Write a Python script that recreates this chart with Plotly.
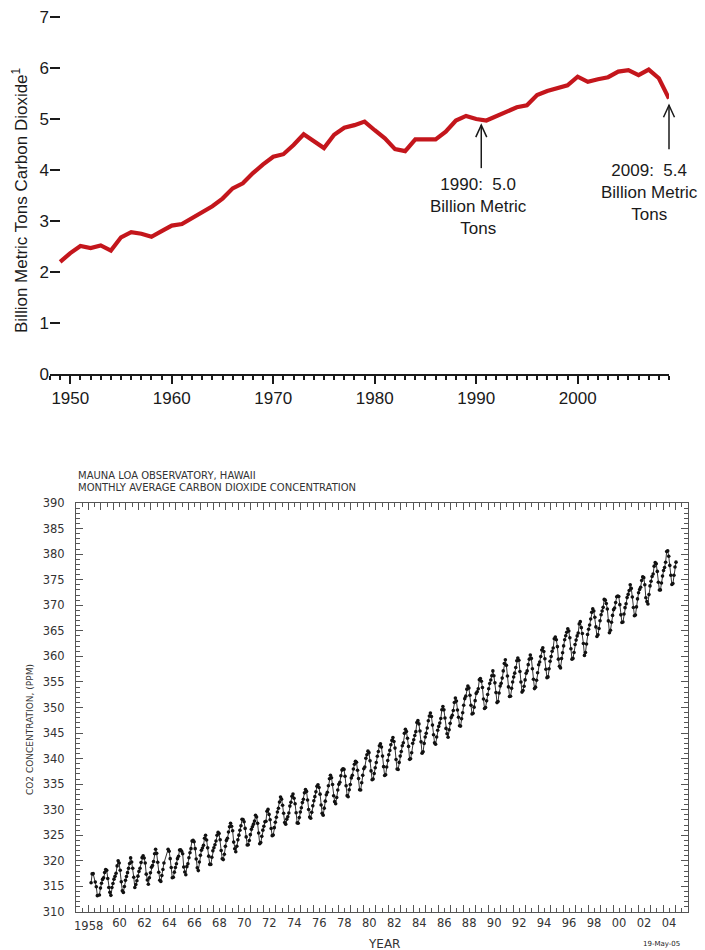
import plotly.graph_objects as go

W, H = 705, 950

# ---------------- US energy-related CO2 emissions (billion metric tons) ----------------
emission_years = list(range(1949, 2010))
emission_values = [
    2.20, 2.37, 2.51, 2.47, 2.52, 2.42, 2.68, 2.78, 2.75, 2.69,   # 1949-1958
    2.80, 2.91, 2.94, 3.05, 3.17, 3.29, 3.44, 3.64, 3.74, 3.94,   # 1959-1968
    4.11, 4.26, 4.31, 4.49, 4.70, 4.56, 4.43, 4.69, 4.83, 4.88,   # 1969-1978
    4.95, 4.78, 4.62, 4.41, 4.37, 4.60, 4.59, 4.60, 4.75, 4.97,   # 1979-1988
    5.06, 5.00, 4.97, 5.05, 5.14, 5.23, 5.27, 5.47, 5.55, 5.60,   # 1989-1998
    5.66, 5.83, 5.73, 5.78, 5.82, 5.93, 5.96, 5.86, 5.97, 5.80,   # 1999-2008
    5.40,                                                         # 2009
]
callout_years = [1990, 2009]
callout_values = [5.0, 5.4]

# ---------------- Mauna Loa monthly mean CO2 (ppm), starting March 1958 ----------------
co2_first_year, co2_first_month = 1958, 3
co2_1958_1969 = [
    315.71, 317.45, 317.50, None, 315.86, 314.93, 313.20, None, 313.33, 314.67,
    315.62, 316.38, 316.71, 317.72, 318.29, 318.15, 316.54, 314.80, 313.84, 313.26, 314.80, 315.58,
    316.43, 316.97, 317.58, 319.02, 320.03, 319.59, 318.18, 315.91, 314.16, 313.83, 315.00, 316.19,
    316.93, 317.70, 318.54, 319.48, 320.58, 319.77, 318.57, 316.79, 314.80, 315.38, 316.10, 317.01,
    317.94, 318.56, 319.68, 320.63, 321.01, 320.55, 319.58, 317.40, 316.26, 315.42, 316.69, 317.69,
    318.74, 319.08, 319.86, 321.39, 322.25, 321.47, 319.74, 317.77, 316.21, 315.99, 317.12, 318.31,
    319.57, None, None, None, 322.25, 321.89, 320.44, 318.70, 316.70, 316.79, 317.79, 318.71,
    319.44, 320.44, 320.89, 322.13, 322.16, 321.87, 321.39, 318.81, 317.81, 317.30, 318.87, 319.42,
    320.62, 321.59, 322.39, 323.87, 324.01, 323.75, 322.39, 320.37, 318.64, 318.10, 319.79, 321.08,
    322.07, 322.50, 323.04, 324.42, 325.00, 324.09, 322.55, 320.92, 319.31, 319.31, 320.72, 321.96,
    322.57, 323.15, 323.89, 325.02, 325.57, 325.36, 324.14, 322.03, 320.41, 320.25, 321.31, 322.84,
    324.00, 324.42, 325.64, 326.66, 327.34, 326.76, 325.88, 323.67, 322.38, 321.78, 322.85, 324.11,
]
co2_1970s = [
    325.03, 325.99, 326.87, 328.13, 328.07, 327.66, 326.35, 324.69, 323.10, 323.16, 323.98, 325.13,
    326.17, 326.68, 327.18, 327.78, 328.92, 328.57, 327.34, 325.46, 323.36, 323.57, 324.80, 326.01,
    326.77, 327.63, 327.75, 329.72, 330.07, 329.09, 328.05, 326.32, 324.93, 325.06, 326.50, 327.55,
    328.54, 329.56, 330.30, 331.50, 332.48, 332.07, 330.87, 329.31, 327.51, 327.18, 328.16, 328.64,
    329.35, 330.71, 331.48, 332.65, 333.09, 332.25, 331.18, 329.40, 327.43, 327.37, 328.46, 329.57,
    330.40, 331.40, 332.04, 333.31, 333.96, 333.59, 331.91, 330.06, 328.56, 328.34, 329.49, 330.76,
    331.75, 332.56, 333.50, 334.58, 334.87, 334.34, 333.05, 330.94, 329.30, 328.94, 330.31, 331.68,
    332.93, 333.42, 334.70, 336.07, 336.74, 336.27, 334.93, 332.75, 331.58, 331.16, 332.40, 333.85,
    334.97, 335.39, 336.64, 337.76, 338.01, 337.89, 336.54, 334.68, 332.76, 332.54, 333.92, 334.95,
    336.23, 336.76, 337.96, 338.89, 339.47, 339.29, 337.73, 336.09, 333.91, 333.86, 335.29, 336.73,
]
co2_1980s = [
    338.01, 338.36, 340.08, 340.77, 341.46, 341.17, 339.56, 337.60, 335.88, 336.01, 337.10, 338.21,
    339.23, 340.47, 341.38, 342.51, 342.91, 342.25, 340.49, 338.43, 336.69, 336.86, 338.36, 339.61,
    340.75, 341.61, 342.70, 343.56, 344.13, 343.35, 342.06, 339.82, 337.97, 337.86, 339.26, 340.49,
    341.38, 342.52, 343.10, 344.94, 345.75, 345.32, 343.99, 342.39, 339.86, 339.99, 341.16, 342.99,
    343.70, 344.51, 345.28, 347.08, 347.43, 346.79, 345.40, 343.28, 341.07, 341.35, 342.98, 344.22,
    344.97, 345.99, 347.42, 348.35, 348.93, 348.25, 346.56, 344.67, 343.09, 342.80, 344.24, 345.56,
    346.30, 346.95, 347.85, 349.55, 350.21, 349.54, 347.94, 345.91, 344.86, 344.17, 345.66, 346.90,
    348.02, 348.47, 349.42, 350.99, 351.84, 351.25, 349.52, 348.10, 346.44, 346.36, 347.81, 348.96,
    350.43, 351.73, 352.22, 353.59, 354.22, 353.79, 352.39, 350.44, 348.72, 348.88, 350.07, 351.34,
    352.76, 353.07, 353.68, 355.42, 355.67, 355.12, 353.90, 351.67, 349.80, 349.99, 351.30, 352.53,
]
co2_1990s = [
    353.66, 354.70, 355.39, 356.20, 357.16, 356.22, 354.82, 352.91, 350.96, 351.18, 352.83, 354.21,
    354.72, 355.75, 357.16, 358.60, 359.34, 358.24, 356.17, 354.03, 352.16, 352.21, 353.75, 354.99,
    355.98, 356.72, 357.81, 359.15, 359.66, 359.25, 357.03, 355.00, 353.01, 353.31, 354.16, 355.40,
    356.70, 357.16, 358.38, 359.46, 360.28, 359.60, 357.57, 355.52, 353.70, 353.98, 355.33, 356.80,
    358.36, 358.91, 359.97, 361.26, 361.68, 360.95, 359.55, 357.49, 355.84, 355.99, 357.58, 359.04,
    359.97, 361.00, 361.64, 363.45, 363.79, 363.26, 361.90, 359.46, 358.06, 357.75, 359.56, 360.70,
    362.05, 363.25, 364.03, 364.72, 365.41, 364.97, 363.65, 361.49, 359.46, 359.60, 360.76, 362.33,
    363.18, 364.00, 364.57, 366.35, 366.79, 365.62, 364.47, 362.51, 360.19, 360.77, 362.43, 364.28,
    365.32, 366.15, 367.31, 368.61, 369.29, 368.87, 367.64, 365.77, 363.90, 364.23, 365.46, 366.97,
    368.15, 368.87, 369.59, 371.14, 371.00, 370.35, 369.27, 366.94, 364.63, 365.12, 366.67, 368.01,
]
co2_2000s = [
    369.14, 369.46, 370.52, 371.66, 371.82, 371.70, 370.12, 368.12, 366.62, 366.73, 368.29, 369.53,
    370.28, 371.50, 372.12, 372.87, 374.02, 373.30, 371.62, 369.55, 367.96, 368.09, 369.68, 371.24,
    372.44, 373.08, 373.52, 374.85, 375.55, 375.40, 374.02, 371.48, 370.71, 370.25, 372.08, 373.78,
    374.68, 375.63, 376.11, 377.65, 378.35, 378.13, 376.62, 374.50, 372.99, 373.00, 374.35, 375.70,
    376.79, 377.37, 378.41, 380.52, 380.63, 379.57, 377.79, 375.86, 374.06, 374.24, 375.86, 377.48,
    378.43,
]
co2_ppm = co2_1958_1969 + co2_1970s + co2_1980s + co2_1990s + co2_2000s
# decimal-year position of each monthly value (middle of the month)
co2_time = [co2_first_year + (co2_first_month - 1 + i + 0.5) / 12 for i in range(len(co2_ppm))]

year_ticks = list(range(1957, 2007))
year_tick_text = ["" if (y % 2 or y == 1958 or y > 2004) else f"{y % 100:02d}" for y in year_ticks]
half_year_ticks = [y + 0.5 for y in range(1957, 2006)]


def px(x):
    return x / W


def py(y):
    return 1 - y / H


ARIAL = "Liberation Sans, Arial, sans-serif"
PLAIN = "DejaVu Sans, sans-serif"
INK = "#1a1a1a"
GREY = "#333333"

# emissions panel placement
E_XDOM = [px(50), px(669)]
E_YDOM = [py(374), py(16)]
E_XRANGE = [1948, 2009]
E_YRANGE = [0, 7.02]


def emis_paper(x, y):
    """Position on the emissions axes expressed as paper fractions."""
    fx = E_XDOM[0] + (x - E_XRANGE[0]) / (E_XRANGE[1] - E_XRANGE[0]) * (E_XDOM[1] - E_XDOM[0])
    fy = E_YDOM[0] + (y - E_YRANGE[0]) / (E_YRANGE[1] - E_YRANGE[0]) * (E_YDOM[1] - E_YDOM[0])
    return fx, fy


fig = go.Figure()

fig.add_trace(go.Scatter(
    x=emission_years, y=emission_values, mode="lines",
    line=dict(color="#C4161C", width=4.2), xaxis="x", yaxis="y",
    hoverinfo="x+y",
))

fig.add_trace(go.Scatter(
    x=co2_time, y=co2_ppm, mode="lines+markers", connectgaps=True,
    line=dict(color="#333333", width=1),
    marker=dict(color="#111111", size=3.6),
    xaxis="x2", yaxis="y2", hoverinfo="x+y",
))

# callout arrows: shaft and open chevron head, sized in pixels from the tip
shapes = []
arrow_tips = [(1990.5, 4.88, 43), (2009.0, 5.27, 44)]
for x_tip, y_tip, shaft in arrow_tips:
    ax_p, ay_p = emis_paper(x_tip, y_tip)
    for path in (f"M0,0 L0,-{shaft}", "M-5.5,-12 L0,0 L5.5,-12"):
        shapes.append(dict(
            type="path", path=path, xref="paper", yref="paper",
            xsizemode="pixel", ysizemode="pixel", xanchor=ax_p, yanchor=ay_p,
            line=dict(color=INK, width=1.5),
        ))

annotations = []
callout_pos = [(478, 206), (649, 192)]
for (cx, cy), yr, val in zip(callout_pos, callout_years, callout_values):
    annotations.append(dict(
        x=px(cx), y=py(cy), xref="paper", yref="paper", showarrow=False,
        text=f"{yr}:&nbsp; {val:.1f}<br>Billion Metric<br>Tons",
        font=dict(family=ARIAL, size=17, color=INK), align="center",
        xanchor="center", yanchor="middle",
    ))

annotations.append(dict(
    x=px(20), y=py(200), xref="paper", yref="paper", showarrow=False,
    text="Billion Metric Tons Carbon Dioxide<sup>1</sup>", textangle=-90,
    font=dict(family=ARIAL, size=17, color=INK),
    xanchor="center", yanchor="middle",
))

# Mauna Loa chart texts
annotations += [
    dict(x=px(76), y=py(475), text="MAUNA LOA OBSERVATORY, HAWAII"),
    dict(x=px(76), y=py(488), text="MONTHLY AVERAGE CARBON DIOXIDE CONCENTRATION"),
]
for a in annotations[-2:]:
    a.update(xref="paper", yref="paper", showarrow=False, xanchor="left",
             yanchor="middle", font=dict(family=PLAIN, size=10, color=GREY))

annotations += [
    dict(x=px(30), y=py(730), xref="paper", yref="paper", showarrow=False,
         text="CO2 CONCENTRATION, (PPM)", textangle=-90,
         font=dict(family=PLAIN, size=9, color=GREY),
         xanchor="center", yanchor="middle"),
    dict(x=px(384), y=py(944), xref="paper", yref="paper", showarrow=False,
         text="YEAR", font=dict(family=PLAIN, size=12, color=GREY),
         xanchor="center", yanchor="middle"),
    dict(x=px(661), y=py(944), xref="paper", yref="paper", showarrow=False,
         text="19-May-05", font=dict(family=PLAIN, size=7, color=INK),
         xanchor="center", yanchor="middle"),
    dict(x=px(88), y=py(926), xref="paper", yref="paper", showarrow=False,
         text="1958", font=dict(family=PLAIN, size=11.5, color=GREY),
         xanchor="center", yanchor="middle"),
]

fig.update_layout(
    width=W, height=H, margin=dict(l=0, r=0, t=0, b=0, pad=0),
    paper_bgcolor="white", plot_bgcolor="white", showlegend=False,
    annotations=annotations, shapes=shapes,
    xaxis=dict(
        domain=E_XDOM, range=E_XRANGE, anchor="y",
        showline=True, linecolor=INK, linewidth=2, showgrid=False, zeroline=False,
        ticks="outside", ticklen=8, tickwidth=2, tickcolor=INK,
        tickmode="linear", tick0=1950, dtick=10,
        minor=dict(tickmode="linear", tick0=1949, dtick=1, ticks="outside",
                   ticklen=4, tickwidth=2, tickcolor=INK, showgrid=False),
        tickfont=dict(family=ARIAL, size=17, color=INK), automargin=False,
    ),
    yaxis=dict(
        domain=E_YDOM, range=E_YRANGE, anchor="x",
        showline=False, showgrid=False, zeroline=False,
        ticks="inside", ticklen=10, tickwidth=2, tickcolor=INK,
        tickmode="linear", tick0=0, dtick=1,
        tickfont=dict(family=ARIAL, size=17, color=INK), automargin=False,
    ),
    xaxis2=dict(
        domain=[px(76), px(688)], range=[1957, 2006], anchor="y2",
        showline=True, mirror="allticks", linecolor="#555555", linewidth=1,
        showgrid=False, zeroline=False,
        ticks="inside", ticklen=7, tickwidth=1, tickcolor="#555555",
        tickmode="array", tickvals=year_ticks, ticktext=year_tick_text,
        ticklabelshift=6,
        minor=dict(tickmode="array", tickvals=half_year_ticks, ticks="inside",
                   ticklen=4, tickwidth=1, tickcolor="#555555", showgrid=False),
        tickfont=dict(family=PLAIN, size=11.5, color=GREY), automargin=False,
    ),
    yaxis2=dict(
        domain=[py(912), py(503)], range=[310, 390], anchor="x2",
        showline=True, mirror="allticks", linecolor="#555555", linewidth=1,
        showgrid=False, zeroline=False,
        ticks="inside", ticklen=7, tickwidth=1, tickcolor="#555555",
        tickmode="linear", tick0=310, dtick=5, ticklabelstandoff=8,
        minor=dict(tickmode="linear", tick0=310, dtick=1, ticks="inside",
                   ticklen=4, tickwidth=1, tickcolor="#555555", showgrid=False),
        tickfont=dict(family=PLAIN, size=11.5, color=GREY), automargin=False,
    ),
)

fig.write_html("out.html")
